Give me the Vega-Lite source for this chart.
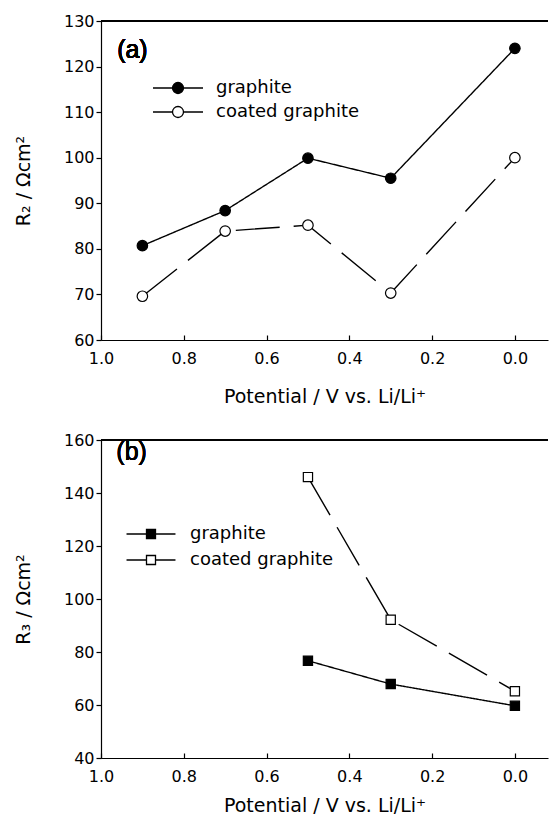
{
  "$schema": "https://vega.github.io/schema/vega-lite/v6.json",
  "padding": {"left": 14, "top": 13, "right": 0, "bottom": 0},
  "background": "white",
  "config": {
    "font": "DejaVu Sans",
    "view": {"stroke": null},
    "axis": {
      "domainColor": "black", "domainWidth": 1.2, "tickColor": "black", "tickWidth": 1.2,
      "labelColor": "black", "titleColor": "black", "grid": false,
      "labelFontSize": 16, "titleFontSize": 19, "titleFontWeight": "normal", "labelFont": "DejaVu Sans", "titleFont": "DejaVu Sans"
    },
    "axisX": {"tickSize": -5, "labelPadding": 15, "titlePadding": 21, "labelFlush": false},
    "axisY": {"tickSize": 5, "labelPadding": 2, "titlePadding": 30},
    "legend": {
      "orient": "none", "padding": 0, "labelFontSize": 18, "labelColor": "black", "labelFont": "DejaVu Sans",
      "symbolStrokeColor": "black", "symbolStrokeWidth": 1.3, "symbolSize": 324, "title": null
    }
  },
  "datasets": {
    "r2": [
      {"potential": 0.9, "value": 80.7, "series": "graphite"},
      {"potential": 0.7, "value": 88.4, "series": "graphite"},
      {"potential": 0.5, "value": 99.9, "series": "graphite"},
      {"potential": 0.3, "value": 95.5, "series": "graphite"},
      {"potential": 0.0, "value": 124.0, "series": "graphite"},
      {"potential": 0.9, "value": 69.6, "series": "coated graphite"},
      {"potential": 0.7, "value": 83.9, "series": "coated graphite"},
      {"potential": 0.5, "value": 85.2, "series": "coated graphite"},
      {"potential": 0.3, "value": 70.3, "series": "coated graphite"},
      {"potential": 0.0, "value": 100.0, "series": "coated graphite"}
    ],
    "r3": [
      {"potential": 0.5, "value": 76.7, "series": "graphite"},
      {"potential": 0.3, "value": 67.9, "series": "graphite"},
      {"potential": 0.0, "value": 59.7, "series": "graphite"},
      {"potential": 0.5, "value": 146.0, "series": "coated graphite"},
      {"potential": 0.3, "value": 92.2, "series": "coated graphite"},
      {"potential": 0.0, "value": 65.2, "series": "coated graphite"}
    ]
  },
  "vconcat": [
    {
      "width": 447, "height": 319,
      "data": {"name": "r2"},
      "encoding": {
        "x": {"field": "potential", "type": "quantitative",
          "scale": {"domain": [-0.08, 1.0], "reverse": true, "nice": false, "zero": false},
          "axis": {"values": [1.0, 0.8, 0.6, 0.4, 0.2, 0.0], "format": ".1f", "title": "Potential / V vs. Li/Li⁺"}},
        "y": {"field": "value", "type": "quantitative",
          "scale": {"domain": [60, 130], "nice": false, "zero": false},
          "axis": {"values": [60, 70, 80, 90, 100, 110, 120, 130], "title": "R₂ / Ωcm²"}}
      },
      "layer": [
        {"mark": {"type": "rule", "color": "black", "strokeWidth": 1.2}, "encoding": {"x": {"value": 0}, "x2": {"value": 447}, "y": {"datum": 130}}},
        {"mark": {"type": "line", "color": "black", "strokeWidth": 1.4},
          "encoding": {"strokeDash": {"field": "series", "type": "nominal", "scale": {"domain": ["graphite", "coated graphite"], "range": [[1, 0], [44, 14]]}, "legend": null}}},
        {"mark": {"type": "point", "shape": "circle", "filled": true, "stroke": "black", "strokeWidth": 1.2, "size": 110, "opacity": 1},
          "encoding": {"fill": {"field": "series", "type": "nominal", "scale": {"domain": ["graphite", "coated graphite"], "range": ["black", "white"]},
            "legend": {"legendX": 67, "legendY": 57, "rowPadding": 5, "labelOffset": 28, "symbolType": "M-2.78,0H-0.61M0.61,0H2.78M-0.61,0A0.61,0.61 0 1,1 0.61,0A0.61,0.61 0 1,1 -0.61,0Z"}}}},
        {"mark": {"type": "text", "font": "Liberation Sans", "fontSize": 25, "fontWeight": "normal", "align": "left", "baseline": "middle", "color": "black"},
          "encoding": {"x": {"datum": 0.961}, "y": {"datum": 123.6}, "text": {"value": "(a)"}}}
      ]
    },
    {
      "width": 447, "height": 318,
      "data": {"name": "r3"},
      "encoding": {
        "x": {"field": "potential", "type": "quantitative",
          "scale": {"domain": [-0.08, 1.0], "reverse": true, "nice": false, "zero": false},
          "axis": {"values": [1.0, 0.8, 0.6, 0.4, 0.2, 0.0], "format": ".1f", "title": "Potential / V vs. Li/Li⁺", "titlePadding": 12}},
        "y": {"field": "value", "type": "quantitative",
          "scale": {"domain": [40, 160], "nice": false, "zero": false},
          "axis": {"values": [40, 60, 80, 100, 120, 140, 160], "title": "R₃ / Ωcm²"}}
      },
      "layer": [
        {"mark": {"type": "rule", "color": "black", "strokeWidth": 1.2}, "encoding": {"x": {"value": 0}, "x2": {"value": 447}, "y": {"datum": 160}}},
        {"mark": {"type": "line", "color": "black", "strokeWidth": 1.4},
          "encoding": {"strokeDash": {"field": "series", "type": "nominal", "scale": {"domain": ["graphite", "coated graphite"], "range": [[1, 0], [44, 14]]}, "legend": null}}},
        {"mark": {"type": "point", "shape": "square", "filled": true, "stroke": "black", "strokeWidth": 1.2, "size": 85, "opacity": 1},
          "encoding": {"fill": {"field": "series", "type": "nominal", "scale": {"domain": ["graphite", "coated graphite"], "range": ["black", "white"]},
            "legend": {"legendX": 40, "legendY": 84, "rowPadding": 7, "labelOffset": 29, "symbolType": "M-2.72,0H-0.5M0.5,0H2.72M-0.5,-0.5H0.5V0.5H-0.5Z"}}}},
        {"mark": {"type": "text", "font": "Liberation Sans", "fontSize": 25, "fontWeight": "normal", "align": "left", "baseline": "middle", "color": "black"},
          "encoding": {"x": {"datum": 0.963}, "y": {"datum": 155.5}, "text": {"value": "(b)"}}}
      ]
    }
  ],
  "spacing": 26,
  "resolve": {"scale": {"fill": "independent", "x": "independent", "y": "independent"}}
}
